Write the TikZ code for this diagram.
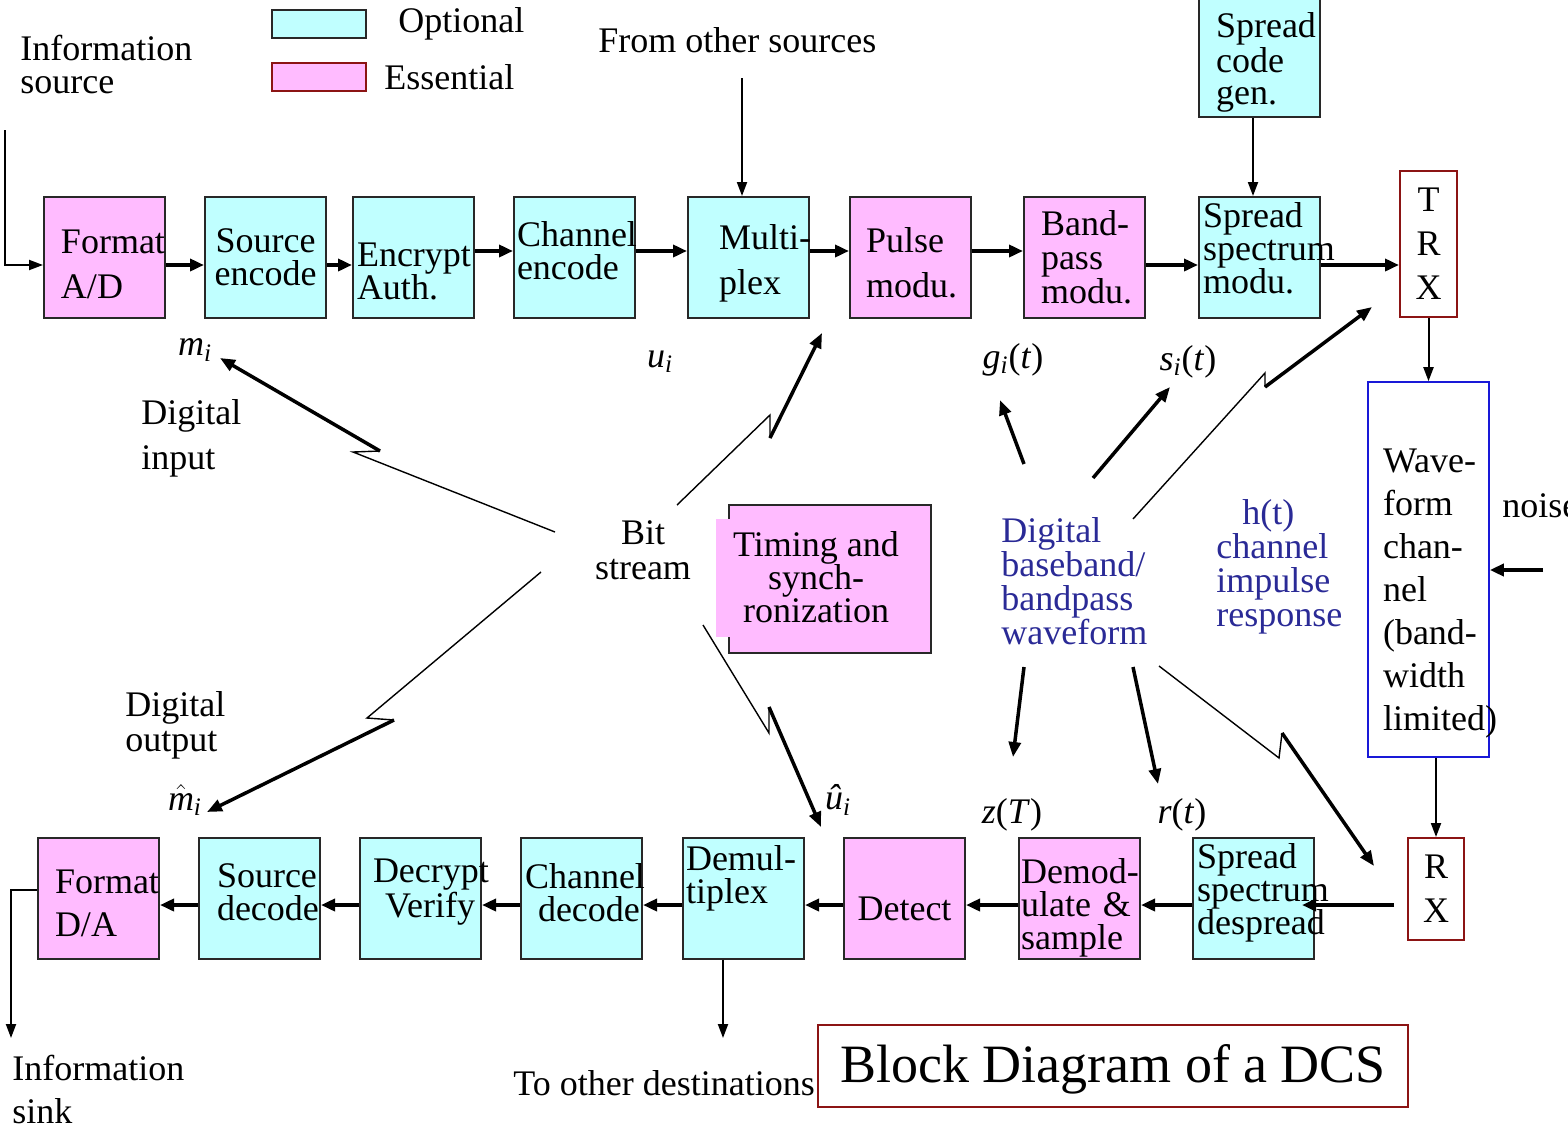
\documentclass[tikz,border=0pt]{standalone}
\usepackage{fontspec}
\setmainfont{Liberation Serif}
\usetikzlibrary{arrows.meta,positioning}
\definecolor{optfill}{RGB}{192,255,255}
\definecolor{essfill}{RGB}{255,187,255}
\definecolor{boxline}{RGB}{40,40,40}
\definecolor{portred}{RGB}{140,20,20}
\definecolor{chblue}{RGB}{25,25,215}
\definecolor{wftext}{RGB}{42,42,150}
\hyphenpenalty=10000
\exhyphenpenalty=10000

\begin{document}
\begin{tikzpicture}[x=0.5pt,y=-0.5pt,font=\fontsize{18}{16.5}\selectfont,
  lead/.style={font=\fontsize{18}{#1}\selectfont},
  pad/.code={\pgfmathsetlengthmacro\padtw{60.5pt-2*(#1)}\pgfkeysalso{/tikz/text width/.expanded=\padtw}},
  blk/.style={draw=boxline,line width=1pt,minimum width=60.5pt,minimum height=60.5pt,inner sep=0pt,align=left},
  opt/.style={blk,fill=optfill},
  ess/.style={blk,fill=essfill},
  port/.style={blk,draw=portred,fill=white,minimum width=28.5pt,align=center,lead=22pt},
  txt/.style={inner sep=0pt,align=left},
  wf/.style={txt,text=wftext},
  flow/.style={line width=2pt,-{Triangle[length=7pt,width=6pt]}},
  feed/.style={line width=1pt,-{Triangle[length=7pt,width=5pt]}},
  zap/.style={line width=0.7pt},
  zapend/.style={line width=1.75pt,-{Triangle[length=7.5pt,width=6pt]}}]
\useasboundingbox (0,0) rectangle (1568,1146);

% Legend
\node[draw=boxline,line width=1pt,fill=optfill,minimum width=47pt,minimum height=14pt,inner sep=0pt] (legopt) at (319,24) {};
\node[draw=portred,line width=1pt,fill=essfill,minimum width=47pt,minimum height=14pt,inner sep=0pt] (legess) at (319,77) {};
\node[txt,right=15.5pt of legopt] (optlbl) {Optional};
\node[txt,right=8.5pt of legess] (esslbl) {Essential};

% Text Node
\node[txt,anchor=west] (infosrc) at (20,64) {Information\\source};
\node[txt,anchor=west] (otherlbl) at (598,40) {From other sources};

% Transmit chain
\node[ess,pad=8.5pt,lead=22.5pt] (fmtad) at (104.5,257.5) {\rule{0pt}{18.2pt}Format\\A/D};
\node[opt,align=center,text width=60.5pt] (srcenc) at (265.5,257.5) {Source\\encode};
\node[opt,pad=2pt] (encr) at (413.5,257.5) {\rule{0pt}{26.2pt}Encrypt\\Auth.};
\node[opt,pad=1.5pt] (chenc) at (574.5,257.5) {Channel\\encode\rule[-7pt]{0pt}{7pt}};
\node[opt,pad=15.5pt,lead=22.5pt] (mux) at (748.5,257.5) {\rule{0pt}{18.2pt}Multi-\\plex};
\node[ess,pad=8pt,lead=22.5pt] (pulse) at (910.5,257.5) {\rule{0pt}{18.2pt}Pulse\\modu.};
\node[ess,pad=8.5pt,lead=17pt] (bpmod) at (1084.5,257.5) {Band-\\pass\\modu.};
\node[opt,pad=2pt] (ssmod) at (1259.5,257.5) {Spread\\spectrum\\modu.\rule[-9pt]{0pt}{9pt}};
\node[opt,pad=8.5pt,lead=16pt] (scgen) at (1259.5,56.5) {\rule{0pt}{18.2pt}Spread\\code\\gen.};
\node[port,minimum height=73pt] (trx) at (1428.5,244) {T\\R\\X};

% Channel
\node[blk,draw=chblue,fill=white,line width=0.8pt,minimum height=187.5pt,pad=7.5pt,lead=21.5pt] (wave) at (1428.5,569.5)
  {\rule{0pt}{36.2pt}Wave-\\form\\chan-\\nel\\(band-\\width\\limited)};
\node[txt,anchor=west] (noise) at (1502,506) {noise};

% Receive chain
\node[ess,pad=8.5pt,lead=21.5pt] (fmtda) at (98.5,898) {\rule{0pt}{17.2pt}Format\\D/A};
\node[opt,pad=9pt] (srcdec) at (259.5,898) {Source\\decode\rule[-6pt]{0pt}{6pt}};
\node[opt,pad=6.5pt] (decr) at (420.5,898) {Decrypt\\\hspace*{6pt}Verify\rule[-10pt]{0pt}{10pt}};
\node[opt,pad=2pt] (chdec) at (581.5,898) {Channel\\\hspace*{6.5pt}decode\rule[-6pt]{0pt}{6pt}};
\node[opt,pad=1.5pt] (demux) at (743.5,898) {Demul-\\tiplex\rule[-24pt]{0pt}{24pt}};
\node[ess,align=center,text width=60.5pt] (detect) at (904.5,898) {\rule{0pt}{22.2pt}Detect};
\node[ess,pad=1pt] (demod) at (1079.5,898) {\rule{0pt}{22.2pt}Demod-\\\mbox{ulate \&}\\sample};
\node[opt,pad=2pt] (ssdesp) at (1253.5,898) {Spread\\spectrum\\despread\rule[-9pt]{0pt}{9pt}};
\node[port,minimum width=28pt,minimum height=51pt] (rx) at (1436,889) {R\\X};

% Timing and synchronization
\node[blk,fill=essfill,minimum width=101pt,minimum height=74pt] (tbox) at (830,579) {};
\fill[essfill] (716,519) rectangle (731,637);
\node[txt,align=center] (tsync) at (816,577) {Timing and\\synch-\\ronization};

% Text Node
\node[txt,align=center,lead=17.5pt] (bits) at (643,550) {Bit\\stream};
\node[txt,anchor=west,lead=22.5pt] (dinput) at (141,438) {Digital\\input};
\node[txt,anchor=west,lead=17.5pt] (doutput) at (125,725) {Digital\\output};
\node[wf,anchor=west,lead=17pt] (dbb) at (1001,581) {Digital\\baseband/\\bandpass\\waveform};
\node[wf,anchor=west,lead=17pt] (himp) at (1216,567) {\hspace*{13pt}h(t)\\channel\\impulse\\response};
\node[txt,anchor=west,lead=21.5pt] (sinklbl) at (12,1089) {Information\\sink};
\node[txt,anchor=west] (destlbl) at (513,1083) {To other destinations};
\node[draw=portred,line width=1pt,minimum width=295pt,minimum height=41pt,font=\fontsize{27}{30}\selectfont] (title) at (1113,1066) {\rule{0pt}{22pt}Block Diagram of a DCS};

% Signal labels
\node[txt] (mi) at (195,350) {\textit{m}\textsubscript{\textit{i}}};
\node[txt] (ui) at (660,362) {\textit{u}\textsubscript{\textit{i}}};
\node[txt] (gi) at (1013,360) {\textit{g}\textsubscript{\textit{i}}(\textit{t})};
\node[txt] (si) at (1188,362) {\textit{s}\textsubscript{\textit{i}}(\textit{t})};
\node[txt] (mhat) at (185,800) {$\hat{\textit{m}}$\textsubscript{\textit{i}}};
\node[txt] (uhat) at (838,800) {\textit{\^{u}}\textsubscript{\textit{i}}};
\node[txt] (zT) at (1012,815) {\textit{z}(\textit{T})};
\node[txt] (rt) at (1182,815) {\textit{r}(\textit{t})};

% Free ends
\coordinate (srcin) at (5,130);
\coordinate (others) at (742,78);
\coordinate (noisein) at (1543,570);
\coordinate (sink) at (11,1038);
\coordinate (todest) at (723,1038);

%Straight Lines
\draw[feed] (srcin) |- ([yshift=-3.75pt]fmtad.west);
\draw[flow] ([yshift=-3.75pt]fmtad.east) -- ([yshift=-3.75pt]srcenc.west);
\draw[flow] ([yshift=-3.75pt]srcenc.east) -- ([yshift=-3.75pt]encr.west);
\draw[flow] ([yshift=3.25pt]encr.east) -- ([yshift=3.25pt]chenc.west);
\draw[flow] ([yshift=3.25pt]chenc.east) -- ([yshift=3.25pt]mux.west);
\draw[flow] ([yshift=3.25pt]mux.east) -- ([yshift=3.25pt]pulse.west);
\draw[flow] ([yshift=3.25pt]pulse.east) -- ([yshift=3.25pt]bpmod.west);
\draw[flow] ([yshift=-3.75pt]bpmod.east) -- ([yshift=-3.75pt]ssmod.west);
\draw[flow] ([yshift=-3.75pt]ssmod.east) -- ([yshift=-3.75pt]ssmod.east -| trx.west);
\draw[feed] (others) -- (others |- mux.north);
\draw[feed] ([xshift=-3.25pt]scgen.south) -- ([xshift=-3.25pt]ssmod.north);
\draw[feed] (trx.south) -- (wave.north);
\draw[flow] (noisein) -- (noisein -| wave.east);
\draw[feed] (wave.south -| rx) -- (rx.north);
\draw[flow] ([xshift=-6.5pt,yshift=-8pt]rx.west) -- ([xshift=-6.5pt,yshift=-8pt]rx.west -| ssdesp.east);
\draw[flow] ([yshift=-3.5pt]ssdesp.west) -- ([yshift=-3.5pt]demod.east);
\draw[flow] ([yshift=-3.5pt]demod.west) -- ([yshift=-3.5pt]detect.east);
\draw[flow] ([yshift=-3.5pt]detect.west) -- ([yshift=-3.5pt]demux.east);
\draw[flow] ([yshift=-3.5pt]demux.west) -- ([yshift=-3.5pt]chdec.east);
\draw[flow] ([yshift=-3.5pt]chdec.west) -- ([yshift=-3.5pt]decr.east);
\draw[flow] ([yshift=-3.5pt]decr.west) -- ([yshift=-3.5pt]srcdec.east);
\draw[flow] ([yshift=-3.5pt]srcdec.west) -- ([yshift=-3.5pt]fmtda.east);
\draw[feed] ([yshift=4pt]fmtda.west) -| (sink);
\draw[feed] (demux.south -| todest) -- (todest);

% Waveform arrows
\coordinate (g0) at (1024,464); \coordinate (g1) at (1000,400);
\coordinate (s0) at (1093,478); \coordinate (s1) at (1170,387);
\coordinate (z0) at (1024,667); \coordinate (z1) at (1013,757);
\coordinate (r0) at (1133,667); \coordinate (r1) at (1158,784);
\draw[zapend] (g0) -- (g1);
\draw[zapend] (s0) -- (s1);
\draw[zapend] (z0) -- (z1);
\draw[zapend] (r0) -- (r1);

% Lightning arrows
\coordinate (mi0) at (555,532); \coordinate (mi1) at (353,452); \coordinate (mi2) at (380,451); \coordinate (mi3) at (220,358);
\coordinate (mh0) at (541,572); \coordinate (mh1) at (367,718); \coordinate (mh2) at (394,720); \coordinate (mh3) at (207,812);
\coordinate (mx0) at (677,505); \coordinate (mx1) at (770,415); \coordinate (mx2) at (770,438); \coordinate (mx3) at (822,333);
\coordinate (uh0) at (703,625); \coordinate (uh1) at (769,733); \coordinate (uh2) at (769,707); \coordinate (uh3) at (821,827);
\coordinate (tx0) at (1133,519); \coordinate (tx1) at (1265,373); \coordinate (tx2) at (1265,387); \coordinate (tx3) at (1372,307);
\coordinate (rb0) at (1159,666); \coordinate (rb1) at (1279,758); \coordinate (rb2) at (1282,733); \coordinate (rb3) at (1374,866);
\draw[zap] (mi0) -- (mi1) -- (mi2); \draw[zapend] (mi2) -- (mi3);
\draw[zap] (mh0) -- (mh1) -- (mh2); \draw[zapend] (mh2) -- (mh3);
\draw[zap] (mx0) -- (mx1) -- (mx2); \draw[zapend] (mx2) -- (mx3);
\draw[zap] (uh0) -- (uh1) -- (uh2); \draw[zapend] (uh2) -- (uh3);
\draw[zap] (tx0) -- (tx1) -- (tx2); \draw[zapend] (tx2) -- (tx3);
\draw[zap] (rb0) -- (rb1) -- (rb2); \draw[zapend] (rb2) -- (rb3);

\end{tikzpicture}
\end{document}
